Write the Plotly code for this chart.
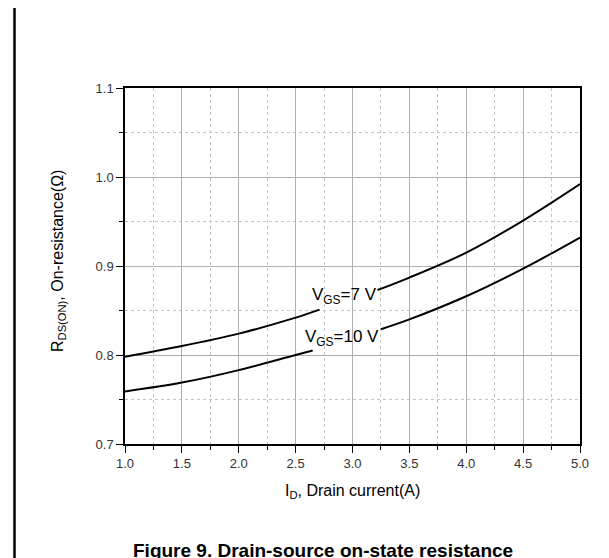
import plotly.graph_objects as go

# ---- data ----
vgs7_current = [1.0, 1.5, 2.0, 2.5, 2.71, 3.22, 3.5, 4.0, 4.5, 5.0]
vgs7_rdson = [0.798, 0.810, 0.824, 0.842, 0.851, 0.873, 0.887, 0.915, 0.951, 0.992]
vgs7_gap = (2.71, 3.22)  # curve is interrupted here for its label

vgs10_current = [1.0, 1.5, 2.0, 2.5, 2.65, 3.25, 3.5, 4.0, 4.5, 5.0]
vgs10_rdson = [0.759, 0.769, 0.783, 0.800, 0.805, 0.829, 0.840, 0.866, 0.897, 0.932]
vgs10_gap = (2.65, 3.25)

labels = ["V<sub>GS</sub>=7 V", "V<sub>GS</sub>=10 V"]
label_x = [2.93, 2.91]
label_y = [0.866, 0.819]

x_ticks = [1.0, 1.5, 2.0, 2.5, 3.0, 3.5, 4.0, 4.5, 5.0]
y_ticks = [0.7, 0.8, 0.9, 1.0, 1.1]

FONT = "Liberation Sans, Arial, sans-serif"


def with_gap(xs, ys, gap):
    ox, oy = [], []
    for xv, yv in zip(xs, ys):
        ox.append(xv)
        oy.append(yv)
        if xv == gap[0]:
            ox.append(None)
            oy.append(None)
    return ox, oy


fig = go.Figure()
for xs, ys, gap in [(vgs7_current, vgs7_rdson, vgs7_gap),
                    (vgs10_current, vgs10_rdson, vgs10_gap)]:
    gx, gy = with_gap(xs, ys, gap)
    fig.add_trace(go.Scatter(x=gx, y=gy, mode="lines",
                             line=dict(color="black", width=2, shape="spline", smoothing=1.0),
                             connectgaps=False, showlegend=False, hoverinfo="skip"))

for t, lx, ly in zip(labels, label_x, label_y):
    fig.add_annotation(x=lx, y=ly, xref="x", yref="y", text=t, showarrow=False,
                       font=dict(family=FONT, size=17, color="black"),
                       xanchor="center", yanchor="middle")

W, H = 609, 558
L, R, T, B = 117, 37, 80, 122
pw, ph = W - L - R, H - T - B

def px_x(p):
    return (p - L) / pw

def px_y(p):
    return (H - B - p) / ph

axis_common = dict(showline=True, linecolor="black", linewidth=1.5, mirror=True,
                   ticks="outside", ticklen=7, tickwidth=1.2, tickcolor="black",
                   showgrid=True, gridcolor="#b0b0b0", gridwidth=1.4, zeroline=False,
                   tickfont=dict(family=FONT, size=13, color="#333333"))

fig.update_xaxes(range=[1.0, 5.0], tickvals=x_ticks, tickformat=".1f",
                 minor=dict(dtick=0.25, tick0=1.0, showgrid=True, griddash="dot",
                            gridcolor="#c4c4c4", gridwidth=1, ticks="outside", ticklen=4,
                            tickcolor="black"),
                 **axis_common)
fig.update_yaxes(range=[0.7, 1.1], tickvals=y_ticks, tickformat=".1f",
                 minor=dict(dtick=0.05, tick0=0.7, showgrid=True, griddash="dot",
                            gridcolor="#c4c4c4", gridwidth=1, ticks="outside", ticklen=4,
                            tickcolor="black"),
                 **axis_common)

# axis titles
fig.add_annotation(xref="paper", yref="paper", x=px_x(50), y=px_y(253),
                   text="R<sub>DS(ON)</sub>, On-resistance(Ω)", textangle=-90,
                   showarrow=False, xanchor="center", yanchor="middle",
                   font=dict(family=FONT, size=16, color="black"))
fig.add_annotation(xref="paper", yref="paper", x=0.5, y=px_y(483),
                   text="I<sub>D</sub>, Drain current(A)",
                   showarrow=False, xanchor="center", yanchor="middle",
                   font=dict(family=FONT, size=16, color="black"))
# figure caption (cut off at bottom)
fig.add_annotation(xref="paper", yref="paper", x=px_x(315), y=px_y(542),
                   text="<b>Figure 9. Drain-source on-state resistance</b>",
                   showarrow=False, xanchor="center", yanchor="middle",
                   font=dict(family=FONT, size=19, color="black"))

# left frame border
fig.add_shape(type="line", xref="paper", yref="paper",
              x0=px_x(6.5), x1=px_x(6.5), y0=px_y(H + 5), y1=px_y(-5),
              line=dict(color="black", width=2.5))

fig.update_layout(width=W, height=H, margin=dict(l=L, r=R, t=T, b=B),
                  paper_bgcolor="white", plot_bgcolor="white")

fig.write_html("out.html")
